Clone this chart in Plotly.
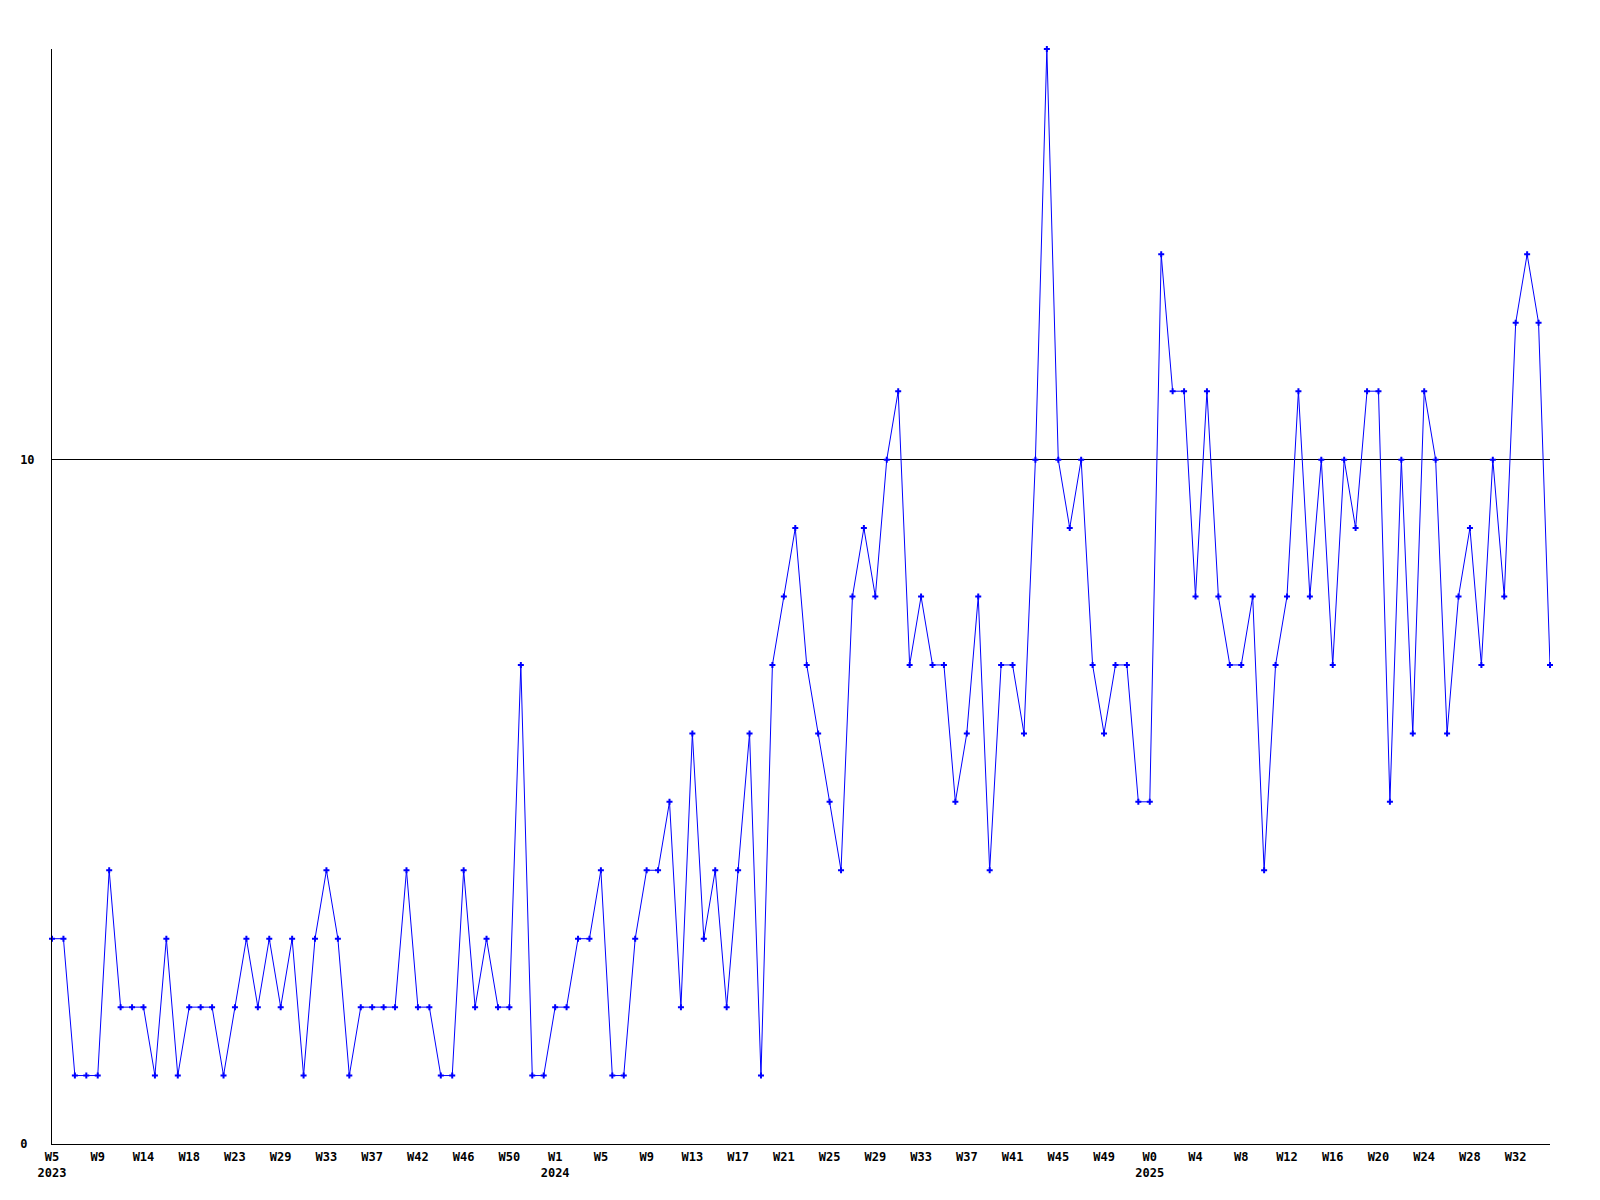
import plotly.graph_objects as go

# weekly values, one per point (132 points)
values = [
    3, 3, 1, 1, 1, 4, 2, 2, 2, 1, 3, 1, 2, 2, 2, 1, 2, 3, 2, 3, 2, 3,
    1, 3, 4, 3, 1, 2, 2, 2, 2, 4, 2, 2, 1, 1, 4, 2, 3, 2, 2, 7, 1,
    1, 2, 2, 3, 3, 4, 1, 1, 3, 4, 4, 5, 2, 6, 3, 4, 2, 4, 6, 1, 7, 8, 9,
    7, 6, 5, 4, 8, 9, 8, 10, 11, 7, 8, 7, 7, 5, 6, 8, 4, 7, 7, 6, 10,
    16, 10, 9, 10, 7, 6, 7, 7, 5, 5, 13, 11, 11, 8, 11, 8, 7, 7, 8, 4, 7, 8,
    11, 8, 10, 7, 10, 9, 11, 11, 5, 10, 6, 11, 10, 6, 8, 9, 7, 10, 8, 12, 13, 12, 7,
]

# x-axis labels, shown on every 4th point
week_labels = [
    "W5", "W9", "W14", "W18", "W23", "W29", "W33", "W37", "W42", "W46", "W50",
    "W1", "W5", "W9", "W13", "W17", "W21", "W25", "W29", "W33", "W37", "W41", "W45", "W49",
    "W0", "W4", "W8", "W12", "W16", "W20", "W24", "W28", "W32",
]
year_labels = {0: "2023", 11: "2024", 24: "2025"}

y_tick_vals = [0, 10]
y_tick_text = ["0\u00a0", "10"]

x = list(range(len(values)))
label_step = 4
tick_vals = [i * label_step for i in range(len(week_labels))]
tick_text = [
    w + ("<br>" + year_labels[i] if i in year_labels else "")
    for i, w in enumerate(week_labels)
]

fig = go.Figure()
fig.add_trace(go.Scatter(
    x=x, y=values, mode="lines+markers",
    line=dict(color="#0000FF", width=1),
    marker=dict(symbol="cross", size=5, color="#0000FF"),
    cliponaxis=False,
    showlegend=False,
))

font = dict(family="DejaVu Sans Mono", size=12, color="black", weight="bold")

fig.update_layout(
    width=1584, height=1184,
    margin=dict(l=42, r=42, t=41, b=43),
    paper_bgcolor="white", plot_bgcolor="white",
    xaxis=dict(
        range=[0, len(values) - 1],
        tickmode="array", tickvals=tick_vals, ticktext=tick_text,
        showgrid=False, zeroline=False,
        showline=True, linecolor="black", linewidth=1,
        ticks="", tickfont=font, ticklabelstandoff=2,
    ),
    yaxis=dict(
        range=[0, 16],
        tickmode="array", tickvals=y_tick_vals, ticktext=y_tick_text,
        showgrid=True, gridcolor="black", gridwidth=1,
        zeroline=False,
        showline=True, linecolor="black", linewidth=1,
        ticks="", tickfont=font, ticklabelstandoff=14,
    ),
)

fig.write_html("out.html")
